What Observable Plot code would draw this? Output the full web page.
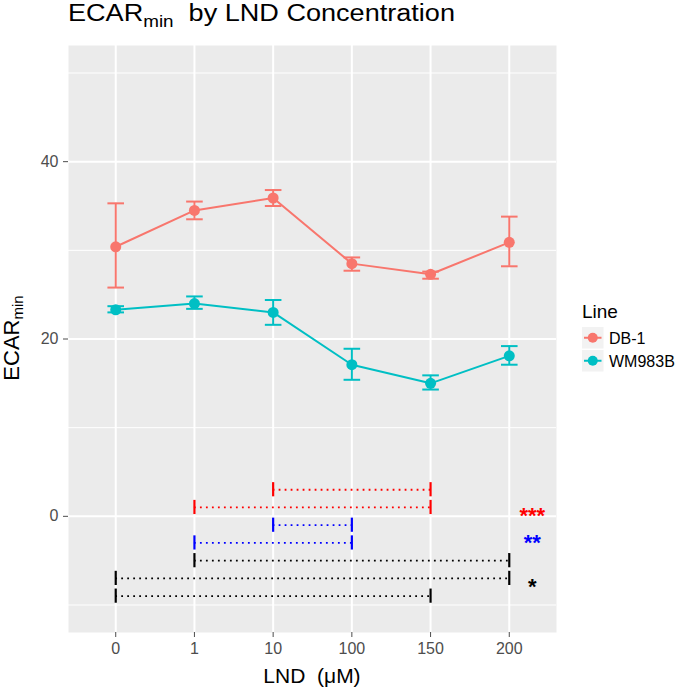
<!DOCTYPE html>
<html>
<head>
<meta charset="utf-8">
<script src="https://cdn.jsdelivr.net/npm/d3@7"></script>
<script src="https://cdn.jsdelivr.net/npm/@observablehq/plot@0.6"></script>
<style>
  body { margin: 0; background: white; font-family: "Liberation Sans", Arial, sans-serif; }
  #wrap { position: relative; width: 685px; height: 691px; overflow: hidden; }
  #title { position: relative; height: 40px; }
  #title span { position: absolute; left: 68px; top: 0px; font-size: 23px; line-height: 26px; white-space: pre; transform-origin: 0 50%; color: black; }
  #title sub { font-size: 16px; vertical-align: -6px; line-height: 0; }
  #legend { position: absolute; left: 575px; top: 290px; }
</style>
</head>
<body>
<div id="wrap">
  <div id="title"><span id="titleText">ECAR<sub>min</sub>  by LND Concentration</span></div>
  <div id="chart"></div>
  <svg id="legend" width="110" height="90"></svg>
</div>
<script>
// ---- data ----
const categories = ["0", "1", "10", "100", "150", "200"];
const lineNames = ["DB-1", "WM983B"];
const lineColors = ["#F8766D", "#00BFC4"];

const db1Mean = [30.4, 34.5, 35.9, 28.5, 27.3, 30.9];
const db1Lo   = [25.8, 33.5, 35.0, 27.7, 26.8, 28.2];
const db1Hi   = [35.3, 35.5, 36.8, 29.2, 27.6, 33.8];

const wmMean = [23.3, 24.0, 23.0, 17.1, 15.0, 18.1];
const wmLo   = [23.0, 23.4, 21.6, 15.4, 14.3, 17.1];
const wmHi   = [23.7, 24.8, 24.4, 18.9, 15.9, 19.2];

const bracketFrom  = ["10", "1", "10", "1", "1", "0", "0"];
const bracketTo    = ["150", "150", "100", "100", "200", "200", "150"];
const bracketY     = [3, 1, -1, -3, -5, -7, -9];
const bracketColor = ["#FF0000", "#FF0000", "#0000FF", "#0000FF", "#000000", "#000000", "#000000"];

const starLabels = ["***", "**", "*"];
const starY      = [0, -3, -8];
const starColor  = ["#FF0000", "#0000FF", "#000000"];

const majorY = [0, 20, 40];
const minorY = [-10, 10, 30, 50];
const yDomain = [-13.1, 53.1];

// ---- tables ----
const series = [
  {name: lineNames[0], mean: db1Mean, lo: db1Lo, hi: db1Hi},
  {name: lineNames[1], mean: wmMean, lo: wmLo, hi: wmHi}
];
const rows = series.flatMap(s => categories.map((c, i) => ({line: s.name, x: c, mean: s.mean[i], lo: s.lo[i], hi: s.hi[i]})));
const brackets = bracketY.map((y, i) => ({from: bracketFrom[i], to: bracketTo[i], y, color: bracketColor[i]}));
const stars = starLabels.map((t, i) => ({label: t, y: starY[i], color: starColor[i], x: categories[categories.length - 1]}));

const capSymbol = {draw(ctx) { ctx.moveTo(-8.3, 0); ctx.lineTo(8.3, 0); }};

const bracketMarks = brackets.flatMap(b => [
  Plot.ruleY([b], {x1: "from", x2: "to", y: "y", stroke: b.color, strokeWidth: 1.8, strokeDasharray: "1.8,4.2"}),
  Plot.ruleX([b], {x: "from", y1: d => d.y - 0.8, y2: d => d.y + 0.8, stroke: b.color, strokeWidth: 2.2}),
  Plot.ruleX([b], {x: "to", y1: d => d.y - 0.8, y2: d => d.y + 0.8, stroke: b.color, strokeWidth: 2.2})
]);

const starMarks = stars.map(s => Plot.text([s], {x: "x", y: "y", text: "label", fill: s.color, fontSize: 22, fontWeight: "bold", dx: 23, textAnchor: "middle"}));

const plot = Plot.plot({
  width: 685,
  height: 651,
  marginTop: 5,
  marginBottom: 59,
  marginLeft: 68,
  marginRight: 129,
  style: {fontFamily: "Liberation Sans, Arial, sans-serif", fontSize: "16px", background: "white", overflow: "visible"},
  x: {type: "point", domain: categories, padding: 0.6, round: false, label: null},
  y: {domain: yDomain, label: null},
  color: {domain: lineNames, range: lineColors},
  marks: [
    Plot.frame({fill: "#EBEBEB", stroke: null}),
    Plot.ruleY(minorY, {stroke: "white", strokeWidth: 1}),
    Plot.ruleY(majorY, {stroke: "white", strokeWidth: 2}),
    Plot.ruleX(categories, {stroke: "white", strokeWidth: 2}),
    Plot.axisY({ticks: majorY, tickSize: 5, tickPadding: 5, color: "#4D4D4D", fontSize: 16, label: null}),
    Plot.axisX({tickSize: 5, tickPadding: 5, color: "#4D4D4D", fontSize: 16, label: null}),
    Plot.ruleX(rows, {x: "x", y1: "lo", y2: "hi", stroke: "line", strokeWidth: 2}),
    Plot.dot(rows, {x: "x", y: "lo", symbol: capSymbol, stroke: "line", fill: "none", strokeWidth: 2}),
    Plot.dot(rows, {x: "x", y: "hi", symbol: capSymbol, stroke: "line", fill: "none", strokeWidth: 2}),
    Plot.line(rows, {x: "x", y: "mean", z: "line", stroke: "line", strokeWidth: 2}),
    Plot.dot(rows, {x: "x", y: "mean", fill: "line", r: 5.5}),
    ...bracketMarks,
    ...starMarks
  ]
});
document.getElementById("chart").appendChild(plot);

// axis titles
const svg = d3.select(plot);
const yl = svg.append("text")
  .attr("transform", "translate(19,298) rotate(-90)")
  .attr("text-anchor", "middle")
  .attr("fill", "black")
  .style("font-size", "22px");
yl.append("tspan").text("ECAR");
yl.append("tspan").text("min").style("font-size", "15px").attr("dy", 4);

svg.append("text")
  .attr("x", 312).attr("y", 643)
  .attr("text-anchor", "middle")
  .attr("fill", "black")
  .style("font-size", "21px")
  .text("LND\u00a0 (\u03bcM)");

// title width fit
const tt = document.getElementById("titleText");
const w = tt.getBoundingClientRect().width;
tt.style.transform = `scaleX(${387 / w})`;

// legend
const lg = d3.select("#legend");
lg.append("text").attr("x", 7).attr("y", 28).style("font-size", "19px").attr("fill", "black").text("Line");
lineNames.forEach((n, i) => {
  const y0 = 37 + i * 23;
  const g = lg.append("g");
  g.append("rect").attr("x", 7).attr("y", y0).attr("width", 21.5).attr("height", 21.5).attr("fill", "#F2F2F2");
  g.append("line").attr("x1", 9).attr("x2", 26.5).attr("y1", y0 + 10.75).attr("y2", y0 + 10.75).attr("stroke", lineColors[i]).attr("stroke-width", 2);
  g.append("circle").attr("cx", 17.75).attr("cy", y0 + 10.75).attr("r", 5).attr("fill", lineColors[i]);
  g.append("text").attr("x", 34).attr("y", y0 + 10.75).attr("dy", "0.36em").style("font-size", "16px").attr("fill", "black").text(n);
});
</script>
</body>
</html>
